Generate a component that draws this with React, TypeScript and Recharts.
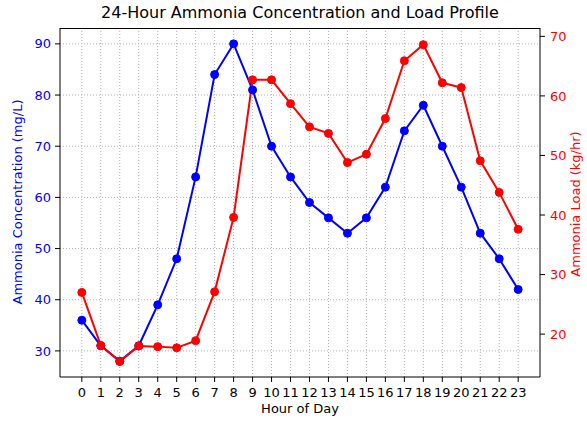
import { LineChart, Line, XAxis, YAxis, CartesianGrid } from 'recharts'

// hour of day
const hours = [0, 1, 2, 3, 4, 5, 6, 7, 8, 9, 10, 11, 12, 13, 14, 15, 16, 17, 18, 19, 20, 21, 22, 23]
// ammonia concentration, mg/L
const concentration = [36, 31, 28, 31, 39, 48, 64, 84, 90, 81, 70, 64, 59, 56, 53, 56, 62, 73, 78, 70, 62, 53, 48, 42]
// ammonia load, kg/hr
const load = [27.0, 18.1, 15.4, 18.0, 17.9, 17.7, 18.9, 27.1, 39.6, 62.7, 62.7, 58.7, 54.8, 53.7, 48.8, 50.2, 56.2, 65.9, 68.6, 62.2, 61.4, 49.1, 43.8, 37.6]

const leftTicks = [30, 40, 50, 60, 70, 80, 90]
const rightTicks = [20, 30, 40, 50, 60, 70]

const data = hours.map((h, i) => ({ hour: h, conc: concentration[i], load: load[i] }))

const FONT = '"DejaVu Sans", sans-serif'
const BLUE = '#0000ff'
const RED = '#ff0000'

export default function App() {
  return (
    <div style={{ position: 'absolute', left: 0, top: 0, width: 587, height: 421, background: '#fff', fontFamily: FONT }}>
      <LineChart width={587} height={421} data={data} margin={{ top: 28, right: 0, left: 0, bottom: 0 }}>
        <CartesianGrid
          yAxisId="left"
          stroke="#b0b0b0"
          strokeDasharray="1 2"
          horizontalValues={leftTicks}
          verticalValues={hours}
        />
        <XAxis
          dataKey="hour"
          type="number"
          domain={[-1.15, 24.15]}
          ticks={hours}
          interval={0}
          allowDataOverflow
          height={44}
          stroke="#000"
          tickSize={5}
          tickMargin={6}
          tick={{ fill: '#000', fontSize: 13, fontFamily: FONT }}
        />
        <YAxis
          yAxisId="left"
          orientation="left"
          domain={[24.9, 93.1]}
          ticks={leftTicks}
          allowDataOverflow
          width={60}
          stroke="#000"
          tickSize={5}
          tickMargin={4}
          tick={{ fill: BLUE, fontSize: 13, fontFamily: FONT }}
        />
        <YAxis
          yAxisId="right"
          orientation="right"
          domain={[12.8, 71.4]}
          ticks={rightTicks}
          allowDataOverflow
          width={47}
          stroke="#000"
          tickSize={5}
          tickMargin={5}
          tick={{ fill: RED, fontSize: 13, fontFamily: FONT }}
        />
        <Line
          yAxisId="left"
          dataKey="conc"
          stroke={BLUE}
          strokeWidth={2}
          dot={{ r: 4, fill: BLUE, stroke: BLUE, strokeWidth: 1 }}
          isAnimationActive={false}
        />
        <Line
          yAxisId="right"
          dataKey="load"
          stroke={RED}
          strokeWidth={2}
          dot={{ r: 4, fill: RED, stroke: RED, strokeWidth: 1 }}
          isAnimationActive={false}
        />
      </LineChart>
      {/* top frame line, matplotlib draws a box */}
      <div style={{ position: 'absolute', left: 60, top: 28, width: 480, height: 0, borderTop: '1px solid #000' }} />
      <div style={{ position: 'absolute', left: 0, top: 3, width: 600, textAlign: 'center', fontSize: 16, color: '#000' }}>
        24-Hour Ammonia Concentration and Load Profile
      </div>
      <div style={{ position: 'absolute', left: 60, top: 401, width: 480, textAlign: 'center', fontSize: 13, color: '#000' }}>
        Hour of Day
      </div>
      <div
        style={{
          position: 'absolute', left: 18, top: 202, width: 300, marginLeft: -150, textAlign: 'center',
          fontSize: 13, color: BLUE, transform: 'translateY(-50%) rotate(-90deg)', lineHeight: '16px',
        }}
      >
        Ammonia Concentration (mg/L)
      </div>
      <div
        style={{
          position: 'absolute', left: 576, top: 204, width: 300, marginLeft: -150, textAlign: 'center',
          fontSize: 13, color: RED, transform: 'translateY(-50%) rotate(-90deg)', lineHeight: '16px',
        }}
      >
        Ammonia Load (kg/hr)
      </div>
    </div>
  )
}
